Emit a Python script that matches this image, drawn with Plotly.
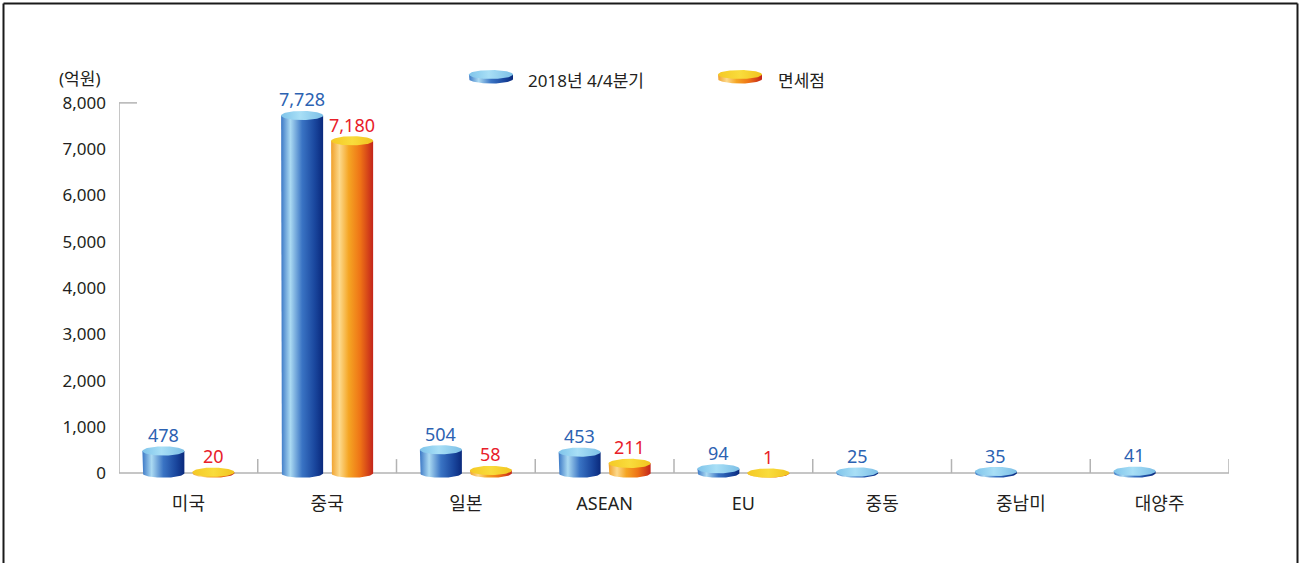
import numpy as np
import plotly.graph_objects as go

# ---------------- data ----------------
categories = ["미국", "중국", "일본", "ASEAN", "EU", "중동", "중남미", "대양주"]
q4_2018 = [478, 7728, 504, 453, 94, 25, 35, 41]
duty_free = [20, 7180, 58, 211, 1, None, None, None]
series_names = ["2018년 4/4분기", "면세점"]
y_ticks = [0, 1000, 2000, 3000, 4000, 5000, 6000, 7000, 8000]
unit_label = "(억원)"

# ---------------- geometry / style ----------------
W, H = 1303, 563
X0_PX, X1_PX = 119, 1229
Y_BOT_PX, Y_TOP_PX = 487, 89
Y_RANGE = [-300, 8300]
PX_Y = (Y_BOT_PX - Y_TOP_PX) / (Y_RANGE[1] - Y_RANGE[0])   # px per value unit
PX_X = (X1_PX - X0_PX) / len(categories)                  # px per category
E = 4.6 / PX_Y
HALF_W = 21 / PX_X
OFFSETS = [-25 / PX_X, 25 / PX_X]

body_scales = [
    [[0, "#3b78c6"], [0.22, "#abdaf2"], [0.5, "#3a74c4"], [0.8, "#1a479e"], [1, "#0a297c"]],
    [[0, "#f0a02a"], [0.2, "#fcd98c"], [0.42, "#f5a523"], [0.7, "#ee7216"], [1, "#c3241b"]],
]
top_scales = [
    [[0, "#7fc4ea"], [0.45, "#a8dff6"], [1, "#7cbfe6"]],
    [[0, "#f4c925"], [0.5, "#f9dc3c"], [1, "#f1c41e"]],
]
label_colors = ["#2c62b2", "#e8202a"]
TEXT = "#231f20"
AXIS = "#b3b3b3"
FONT = "Noto Sans, Noto Sans CJK KR, sans-serif"


def cylinder(cx, top, base, hw, e, n=48):
    t = np.linspace(0, np.pi, n)
    bx = [cx - hw] + list(cx - hw * np.cos(t)) + [cx + hw, cx - hw]
    by = [top] + list(base - e * np.sin(t)) + [top, top]
    s = np.linspace(0, 2 * np.pi, 2 * n)
    tx = list(cx + hw * np.cos(s))
    ty = list(top + e * np.sin(s))
    return (bx, by), (tx, ty)


fig = go.Figure()
annotations = []

series = [q4_2018, duty_free]
for i, cat in enumerate(categories):
    for k, vals in enumerate(series):
        v = vals[i]
        if v is None:
            continue
        cx = i + OFFSETS[k]
        (bx, by), (tx, ty) = cylinder(cx, v, 0, HALF_W, E)
        fig.add_trace(go.Scatter(
            x=bx, y=by, mode="lines", fill="toself", line=dict(width=0),
            fillgradient=dict(type="horizontal", colorscale=body_scales[k]),
            hoverinfo="skip", showlegend=False, xaxis="x", yaxis="y"))
        fig.add_trace(go.Scatter(
            x=tx, y=ty, mode="lines", fill="toself", line=dict(width=0),
            fillgradient=dict(type="horizontal", colorscale=top_scales[k]),
            hoverinfo="skip", showlegend=False, xaxis="x", yaxis="y"))
        annotations.append(dict(
            x=cx, y=v, xref="x", yref="y", text=f"{v:,}", showarrow=False,
            xanchor="center", yanchor="bottom", yshift=2,
            font=dict(size=18, color=label_colors[k], family=FONT)))

# ---------------- legend (pixel-space helper axes) ----------------
legend_x = [491, 740]
legend_text_x = [526, 776]
for k in range(2):
    (bx, by), (tx, ty) = cylinder(legend_x[k], H - 74.5, H - 79, 22, 4.5)
    fig.add_trace(go.Scatter(
        x=bx, y=by, mode="lines", fill="toself", line=dict(width=0),
        fillgradient=dict(type="horizontal", colorscale=body_scales[k]),
        hoverinfo="skip", showlegend=False, xaxis="x2", yaxis="y2"))
    fig.add_trace(go.Scatter(
        x=tx, y=ty, mode="lines", fill="toself", line=dict(width=0),
        fillgradient=dict(type="horizontal", colorscale=top_scales[k]),
        hoverinfo="skip", showlegend=False, xaxis="x2", yaxis="y2"))
    annotations.append(dict(
        x=legend_text_x[k] / W, y=1 - 80 / H, xref="paper", yref="paper",
        text=series_names[k], showarrow=False, xanchor="left", yanchor="middle",
        font=dict(size=17, color=TEXT, family=FONT)))

annotations.append(dict(
    x=79 / W, y=1 - 78 / H, xref="paper", yref="paper", text=unit_label,
    showarrow=False, xanchor="center", yanchor="middle",
    font=dict(size=17, color=TEXT, family=FONT)))

# ---------------- axis decorations ----------------
shapes = []
n = len(categories)
shapes.append(dict(type="line", xref="x", yref="y", x0=-0.5, x1=n - 0.5, y0=0, y1=0,
                   line=dict(color=AXIS, width=1.5), layer="below"))
shapes.append(dict(type="line", xref="x", yref="y", x0=-0.5, x1=-0.5, y0=0, y1=y_ticks[-1],
                   line=dict(color=AXIS, width=1.5), layer="below"))
shapes.append(dict(type="line", xref="x", yref="y", x0=-0.5, x1=-0.5 + 18 / PX_X,
                   y0=y_ticks[-1], y1=y_ticks[-1], line=dict(color=AXIS, width=1.5), layer="below"))
for j in range(1, n + 1):
    shapes.append(dict(type="line", xref="x", yref="y", x0=j - 0.5, x1=j - 0.5,
                       y0=0, y1=14 / PX_Y, line=dict(color=AXIS, width=1.5), layer="below"))
# outer frame
shapes.append(dict(type="line", xref="paper", yref="paper", x0=3.5 / W, x1=3.5 / W,
                   y0=0, y1=1 - 3.5 / H, line=dict(color="#1a1a1a", width=2)))
shapes.append(dict(type="line", xref="paper", yref="paper", x0=3.5 / W, x1=1297.5 / W,
                   y0=1 - 3.5 / H, y1=1 - 3.5 / H, line=dict(color="#1a1a1a", width=2)))
shapes.append(dict(type="line", xref="paper", yref="paper", x0=1297.5 / W, x1=1297.5 / W,
                   y0=0, y1=1 - 3.5 / H, line=dict(color="#1a1a1a", width=2)))

fig.update_layout(
    width=W, height=H, autosize=False,
    margin=dict(l=0, r=0, t=0, b=0, pad=0),
    paper_bgcolor="white", plot_bgcolor="rgba(0,0,0,0)",
    showlegend=False,
    font=dict(family=FONT, color=TEXT),
    xaxis=dict(domain=[X0_PX / W, X1_PX / W], range=[-0.5, n - 0.5],
               tickvals=list(range(n)), ticktext=categories,
               showgrid=False, zeroline=False, showline=False, ticks="",
               tickfont=dict(size=18, color=TEXT, family=FONT),
               ticklabelstandoff=4, fixedrange=True, anchor="y"),
    yaxis=dict(domain=[(H - Y_BOT_PX) / H, (H - Y_TOP_PX) / H], range=Y_RANGE,
               tickvals=y_ticks, tickformat=",d",
               showgrid=False, zeroline=False, showline=False, ticks="",
               tickfont=dict(size=17, color=TEXT, family=FONT),
               ticklabelstandoff=12, fixedrange=True, anchor="x"),
    xaxis2=dict(domain=[0, 1], range=[0, W], visible=False, anchor="y2", fixedrange=True),
    yaxis2=dict(domain=[0, 1], range=[0, H], visible=False, anchor="x2", fixedrange=True),
    shapes=shapes,
    annotations=annotations,
)

fig.write_html(
    "out.html",
    config={"displayModeBar": False, "staticPlot": True},
    post_script="document.body.style.margin='0';document.body.style.overflow='hidden';",
)
